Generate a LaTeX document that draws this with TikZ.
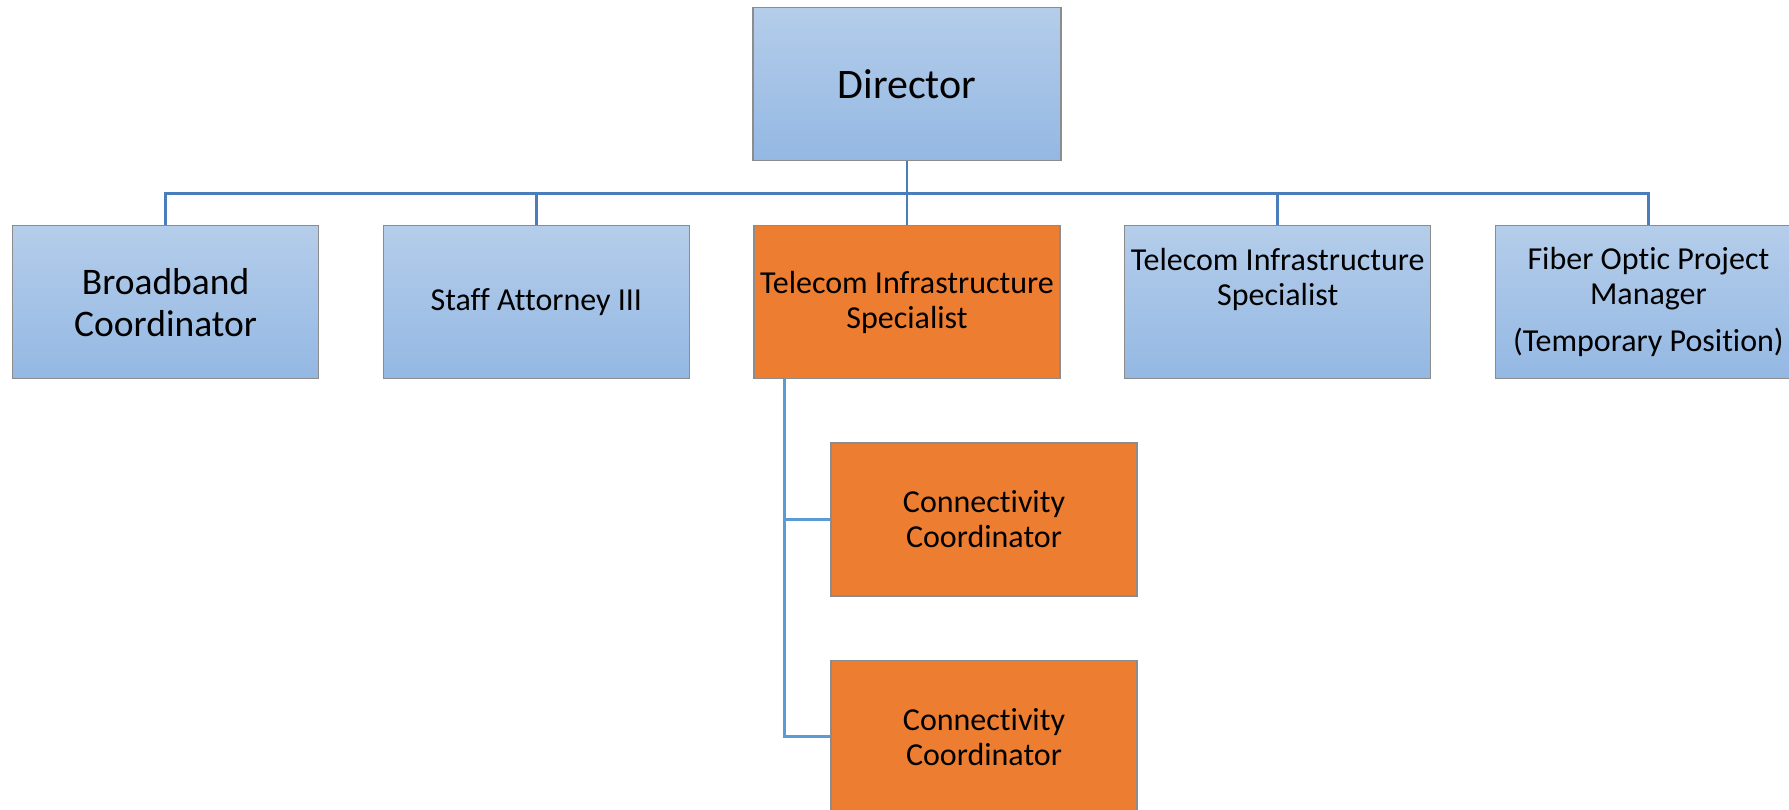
\documentclass[tikz,border=0pt]{standalone}
\usepackage{fontspec}
\setmainfont{Carlito}[Ligatures=CommonOff]
\usetikzlibrary{positioning}

\definecolor{boxtop}{RGB}{180,205,234}
\definecolor{boxbot}{RGB}{148,184,227}
\definecolor{accent}{RGB}{237,125,49}
\definecolor{linkblue}{RGB}{74,126,187}
\definecolor{linkpale}{RGB}{91,155,213}
\definecolor{edge}{RGB}{140,140,140}

\begin{document}
\begin{tikzpicture}[
    x=1pt, y=-1pt,
    node distance=63.5pt and 63.5pt,
    box/.style={rectangle, draw=edge, line width=1.2pt, minimum height=153pt, minimum width=306pt, inner sep=0pt, align=center, font=\fontsize{32}{35}\selectfont},
    post/.style={box, top color=boxtop, bottom color=boxbot},
    focus/.style={box, fill=accent},
    link/.style={draw=linkblue, line width=2.8pt},
    sublink/.style={link, draw=linkpale}
]
\useasboundingbox (0,0) rectangle (1789,809);

% Nodes
\node[post, minimum width=308pt, font=\fontsize{42}{48}\selectfont] (dir) at (907,84) {Director};
\node[focus, below=64pt of dir] (tis) {Telecom Infrastructure\\Specialist};
\node[post, left=of tis] (atty) {Staff Attorney III};
\node[post, left=of atty, font=\fontsize{37.5}{42}\selectfont] (bb) {Broadband\\Coordinator};
\node[post, right=of tis] (tis2) {Telecom Infrastructure\\Specialist\\[16pt]\mbox{}};
\node[post, right=of tis2] (fib) {Fiber Optic Project\\Manager\\[12pt](Temporary Position)};
\node[focus, below right=63pt and 77pt of tis.south west] (cc1) {Connectivity\\Coordinator};
\node[focus, below=63pt of cc1] (cc2) {Connectivity\\Coordinator};

% Connections
\foreach \n in {bb, atty, tis, tis2, fib}
    \draw[link] (dir.south) -- ++(0,-32pt) -| (\n.north);
\draw[sublink] ([xshift=31pt]tis.south west) |- (cc1.west);
\draw[sublink] ([xshift=31pt]tis.south west) |- (cc2.west);

\end{tikzpicture}
\end{document}
